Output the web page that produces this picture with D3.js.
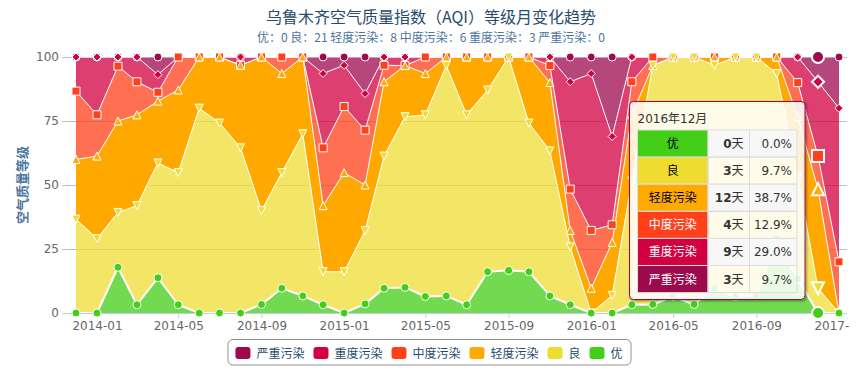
<!DOCTYPE html>
<html><head><meta charset="utf-8">
<script src="https://cdn.jsdelivr.net/npm/d3@7/dist/d3.min.js"></script>
<style>
body{margin:0;background:#fff;}
svg{display:block;}
</style></head><body>
<svg id="chart" width="862" height="382"></svg>
<script>
// ---------- data ----------
const months = ["2013-12","2014-01","2014-02","2014-03","2014-04","2014-05","2014-06","2014-07","2014-08","2014-09","2014-10","2014-11",
  "2014-12","2015-01","2015-02","2015-03","2015-04","2015-05","2015-06","2015-07","2015-08","2015-09","2015-10","2015-11",
  "2015-12","2016-01","2016-02","2016-03","2016-04","2016-05","2016-06","2016-07","2016-08","2016-09","2016-10","2016-11",
  "2016-12","2017-01"];
const seriesNames  = ["严重污染","重度污染","中度污染","轻度污染","良","优"];
const seriesColors = ["#9C0A4E","#D20040","#FF401A","#FFAA00","#EFDC31","#43CE17"];
const seriesAreaColors = ["#9C0A4E","#D20040","#FF401A","#FFA800","#EFDC31","#43CE17"];
const seriesAreaOpacity = [0.75,0.75,0.75,1,0.75,0.75];
const seriesMarkers = ["circle","diamond","square","triangle","triangle-down","circle"];
// days per month for each level
const yanzhong = [0,0,0,0,2,0,0,0,0,0,0,0, 2,1,4,0,0,0,0,0,0,0,0,0, 3,2,9,0,0,0,0,0,0,0,0,0, 3,1];
const zhongdu2 = [4,7,1,3,2,0,0,0,1,0,0,0, 9,5,4,1,1,0,0,0,0,0,0,1, 13,19,10,3,0,0,0,0,0,0,0,3, 9,3];
const zhongdu  = [8,5,6,4,1,4,0,0,0,0,2,0, 7,8,6,2,0,2,0,0,0,0,0,2, 5,7,2,4,1,0,0,0,0,0,0,4, 4,1];
const qingdu   = [7,10,10,11,7,10,6,8,10,18,12,9, 8,12,5,9,6,5,1,7,4,0,8,8, 2,3,6,8,0,0,0,1,0,0,2,7, 12,0];
const liang    = [11,9,6,12,13,16,24,23,20,11,14,19, 4,5,8,16,20,22,27,23,22,25,18,17, 7,0,2,15,28,29,29,27,29,28,20,12, 3,0];
const you      = [0,0,5,1,4,1,0,0,0,1,3,2, 1,0,1,3,3,2,2,1,5,5,5,2, 1,0,0,1,1,2,1,3,2,2,9,4, 0,0];
const seriesValues = [yanzhong, zhongdu2, zhongdu, qingdu, liang, you];
const yTicks = [0,25,50,75,100];
const titleText = "乌鲁木齐空气质量指数（AQI）等级月变化趋势";
const subtitleText = "优：0 良：21 轻度污染：8 中度污染：6 重度污染：3 严重污染：0";
const yTitleText = "空气质量等级";
const hoverMonth = "2016-12";
const hoverLabel = "2016年12月";

// ---------- layout ----------
const svg = d3.select("#chart");
const plotLeft = 62, plotRight = 847, plotTop = 57, plotBottom = 313;
const LAT = '"DejaVu Sans","Noto Sans CJK SC",sans-serif';
const CJK = '"Noto Sans CJK SC","DejaVu Sans",sans-serif';
const parse = d3.timeParse("%Y-%m");
const dates = months.map(parse);

const x = d3.scaleTime().domain([dates[0], dates[dates.length-1]]).range([76, 839]);
const y = d3.scaleLinear().domain([0,100]).range([plotBottom, plotTop]);

// stacked (percent) data; bottom series first
const keys = seriesNames.slice().reverse();
const rows = months.map((m,i)=>{
  const r = {date: dates[i]};
  seriesNames.forEach((n,k)=> r[n] = seriesValues[k][i]);
  return r;
});
const stacked = d3.stack().keys(keys).offset(d3.stackOffsetExpand)(rows);
const stackByName = {};
stacked.forEach(s => stackByName[s.key] = s);

// title
svg.append("text").attr("x",431).attr("y",23).attr("text-anchor","middle")
  .style("font-family",CJK).style("font-size","16px").attr("fill","#274b6d").text(titleText);
svg.append("text").attr("x",431).attr("y",42).attr("text-anchor","middle")
  .style("font-family",CJK).style("font-size","12px").attr("fill","#4d759e").text(subtitleText);

// y title
svg.append("text").attr("transform","translate(27,185) rotate(-90)").attr("text-anchor","middle")
  .style("font-family",CJK).style("font-size","13px").style("font-weight","bold")
  .attr("fill","#4d759e").text(yTitleText);

// gridlines
const grid = svg.append("g");
grid.selectAll("line").data(yTicks).join("line")
  .attr("x1",plotLeft).attr("x2",plotRight)
  .attr("y1",d=>y(d)+0.5).attr("y2",d=>y(d)+0.5)
  .attr("stroke","#C0C0C0").attr("stroke-width",1);

// y labels
const yAxis = d3.axisLeft(y).tickValues(yTicks).tickSize(0).tickPadding(0);
const yg = svg.append("g").attr("transform",`translate(${plotLeft-3},0)`).call(yAxis);
yg.select(".domain").remove();
yg.selectAll("text").style("font-family",LAT).style("font-size","12px").attr("fill","#666").attr("dy","0.32em");

// areas
const area = d3.area().x(d=>x(d.data.date)).y0(d=>y(d[0]*100)).y1(d=>y(d[1]*100));
const line = d3.line().x(d=>x(d.data.date)).y(d=>y(d[1]*100));
const areasG = svg.append("g");
seriesNames.forEach((n,k)=>{
  areasG.append("path").datum(stackByName[n]).attr("d",area)
    .attr("fill",seriesAreaColors[k]).attr("fill-opacity",seriesAreaOpacity[k]);
});
const linesG = svg.append("g");
seriesNames.forEach((n,k)=>{
  linesG.append("path").datum(stackByName[n]).attr("d",line)
    .attr("fill","none").attr("stroke","#fff").attr("stroke-width", n==="优"?2:1)
    .attr("stroke-linejoin","round");
});

// x axis
const xAxisG = svg.append("g");
const clip = svg.append("defs").append("clipPath").attr("id","xclip");
clip.append("rect").attr("x",0).attr("y",0).attr("width",849).attr("height",382);
xAxisG.attr("clip-path","url(#xclip)");
xAxisG.append("line").attr("x1",plotLeft).attr("x2",plotRight)
  .attr("y1",plotBottom+0.5).attr("y2",plotBottom+0.5).attr("stroke","#C0D0E0");
const tickDates = d3.timeMonth.every(4).range(parse("2014-01"), d3.timeDay.offset(parse("2017-01"),1));
const xAxis = d3.axisBottom(x).tickValues(tickDates).tickFormat(d3.timeFormat("%Y-%m")).tickSize(5).tickPadding(3);
const xg = xAxisG.append("g").attr("transform",`translate(0,${plotBottom})`).call(xAxis);
xg.select(".domain").remove();
xg.selectAll(".tick line").attr("stroke","#C0D0E0");
xg.selectAll("text").style("font-family",LAT).style("font-size","12px").attr("fill","#666");

// markers
function markerPath(type,cx,cy,r){
  switch(type){
    case "circle": return `M${cx-r},${cy}a${r},${r} 0 1,0 ${2*r},0a${r},${r} 0 1,0 ${-2*r},0Z`;
    case "square": return `M${cx-r},${cy-r}h${2*r}v${2*r}h${-2*r}Z`;
    case "diamond": return `M${cx},${cy-r}L${cx+r},${cy}L${cx},${cy+r}L${cx-r},${cy}Z`;
    case "triangle": return `M${cx},${cy-r}L${cx+r},${cy+r}L${cx-r},${cy+r}Z`;
    case "triangle-down": return `M${cx-r},${cy-r}L${cx+r},${cy-r}L${cx},${cy+r}Z`;
  }
}
const hoverIdx = months.indexOf(hoverMonth);
const markersG = svg.append("g");
seriesNames.forEach((n,k)=>{
  markersG.append("g").selectAll("path").data(stackByName[n]).join("path")
    .attr("d",(d,i)=>markerPath(seriesMarkers[k], x(d.data.date), y(d[1]*100), i===hoverIdx?6:4))
    .attr("fill",seriesColors[k]).attr("stroke","#fff")
    .attr("stroke-width",(d,i)=>i===hoverIdx?2:1);
});

// legend
const legend = svg.append("g");
let lx = 0;
seriesNames.forEach((n,k)=>{
  const g = legend.append("g");
  g.append("rect").attr("x",lx).attr("y",-10).attr("width",15).attr("height",12).attr("rx",3)
    .attr("fill",seriesColors[k]);
  const t = g.append("text").attr("x",lx+21).attr("y",1)
    .style("font-family",CJK).style("font-size","12px").attr("fill","#274b6d").text(n);
  const w = t.node().getComputedTextLength();
  lx += 21 + w + 9;
});
const legendW = lx - 9 + 16;
const legendLeft = 429 - legendW/2;
legend.attr("transform",`translate(${legendLeft+8},357)`);
svg.insert("rect", () => legend.node()).attr("x",legendLeft+0.5).attr("y",339.5)
  .attr("width",legendW).attr("height",25.5).attr("rx",5)
  .attr("fill","none").attr("stroke","#909090").attr("stroke-width",1);

// tooltip
const tipRight = x(dates[hoverIdx]) - 13;
const tipW = 175.5, tipH = 198;
const tipLeft = tipRight - tipW, tipTop = 101.5;
const tip = svg.append("g").attr("transform",`translate(${tipLeft},${tipTop})`);
[[5,0.05],[3,0.1],[1,0.15]].forEach(([w,o])=>{
  tip.append("rect").attr("x",1).attr("y",1).attr("width",tipW).attr("height",tipH).attr("rx",4)
    .attr("fill","none").attr("stroke","#000").attr("stroke-opacity",o).attr("stroke-width",w);
});
tip.append("rect").attr("width",tipW).attr("height",tipH).attr("rx",4)
  .attr("fill","rgba(255,255,255,0.85)").attr("stroke","#9C0A4E").attr("stroke-width",1);
tip.append("text").attr("x",8).attr("y",21).style("font-family",LAT).style("font-size","12px")
  .attr("fill","#333").text(hoverLabel);
const colX = [8, 78.5, 120, 167.5];
const rowH = 27.1, tableTop = 28.5;
const total = seriesValues.reduce((s,arr)=>s+arr[hoverIdx],0);
const order = seriesNames.slice().reverse();
order.forEach((n,r)=>{
  const k = seriesNames.indexOf(n);
  const v = seriesValues[k][hoverIdx];
  const ty = tableTop + r*rowH;
  const light = (n==="优"||n==="良"||n==="轻度污染");
  tip.append("rect").attr("x",colX[0]).attr("y",ty).attr("width",colX[1]-colX[0]).attr("height",rowH)
    .attr("fill",seriesColors[k]).attr("stroke","#ddd");
  tip.append("rect").attr("x",colX[1]).attr("y",ty).attr("width",colX[2]-colX[1]).attr("height",rowH)
    .attr("fill",r%2===0?"#f7f7f7":"none").attr("stroke","#ddd");
  tip.append("rect").attr("x",colX[2]).attr("y",ty).attr("width",colX[3]-colX[2]).attr("height",rowH)
    .attr("fill",r%2===0?"#f7f7f7":"none").attr("stroke","#ddd");
  tip.append("text").attr("x",(colX[0]+colX[1])/2).attr("y",ty+rowH/2+4.5).attr("text-anchor","middle")
    .style("font-family",CJK).style("font-size","12px").attr("fill",light?"#000":"#fff").text(n);
  const t2 = tip.append("text").attr("x",colX[2]-6).attr("y",ty+rowH/2+4.5).attr("text-anchor","end")
    .style("font-family",LAT).style("font-size","12px").attr("fill","#333");
  t2.append("tspan").style("font-weight","bold").text(v);
  t2.append("tspan").style("font-family",CJK).text("天");
  tip.append("text").attr("x",colX[3]-5).attr("y",ty+rowH/2+4.5).attr("text-anchor","end")
    .style("font-family",LAT).style("font-size","12px").attr("fill","#333")
    .text((v/total*100).toFixed(1)+"%");
});
</script>
</body></html>
